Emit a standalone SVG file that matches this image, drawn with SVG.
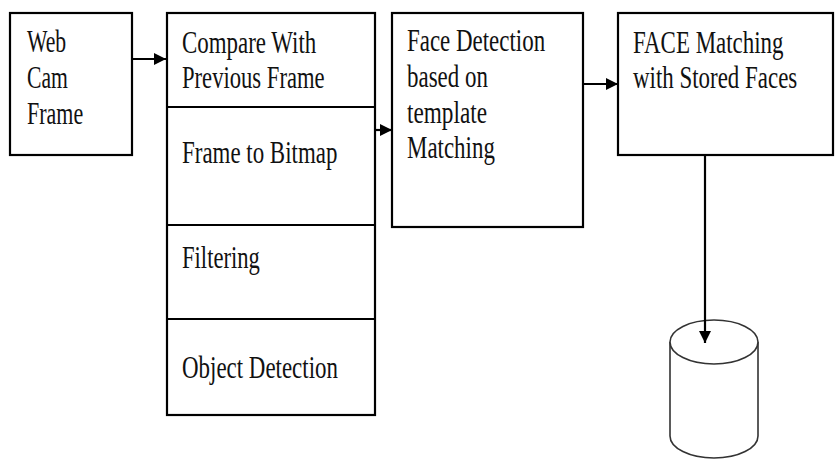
<svg xmlns="http://www.w3.org/2000/svg" width="835" height="459" viewBox="0 0 835 459">
  <style>
    .box { fill: #ffffff; stroke: #000000; stroke-width: 2.2; }
    .lbl { font-family: 'Liberation Serif', 'DejaVu Serif', serif; font-size: 31px; fill: #111111; }
    .conn { stroke: #000000; stroke-width: 2.2; fill: none; }
    .db { fill: #ffffff; stroke: #333333; stroke-width: 1.6; }
  </style>
  <defs>
    <marker id="arrow" viewBox="0 0 12 12" refX="12" refY="6" markerWidth="12" markerHeight="12" markerUnits="userSpaceOnUse" orient="auto">
      <path d="M0,0 L12,6 L0,12 Z" fill="#000000"/>
    </marker>
  </defs>
  <rect x="0" y="0" width="835" height="459" fill="#ffffff"/>

  <!-- Webcam input (labels are narrowed horizontally to a condensed serif look) -->
  <g id="webcam">
    <rect class="box" x="10" y="13" width="122" height="142"/>
    <text class="lbl" transform="translate(27,52) scale(0.70,1)">Web</text>
    <text class="lbl" transform="translate(27,88) scale(0.70,1)">Cam</text>
    <text class="lbl" transform="translate(27,124) scale(0.71,1)">Frame</text>
  </g>

  <!-- Preprocessing stack -->
  <g id="preprocess">
    <rect class="box" x="167" y="13" width="208" height="402"/>
    <line class="box" x1="167" y1="107" x2="375" y2="107"/>
    <line class="box" x1="167" y1="225" x2="375" y2="225"/>
    <line class="box" x1="167" y1="319" x2="375" y2="319"/>
    <text class="lbl" transform="translate(182,53) scale(0.74,1)">Compare With</text>
    <text class="lbl" transform="translate(182,88) scale(0.73,1)">Previous Frame</text>
    <text class="lbl" transform="translate(182,163) scale(0.74,1)">Frame to Bitmap</text>
    <text class="lbl" transform="translate(182,268) scale(0.73,1)">Filtering</text>
    <text class="lbl" transform="translate(182,378) scale(0.74,1)">Object Detection</text>
  </g>

  <!-- Face detection -->
  <g id="face-detection">
    <rect class="box" x="392" y="13" width="191" height="214"/>
    <text class="lbl" transform="translate(407,51) scale(0.74,1)">Face Detection</text>
    <text class="lbl" transform="translate(407,87) scale(0.74,1)">based on</text>
    <text class="lbl" transform="translate(407,123) scale(0.75,1)">template</text>
    <text class="lbl" transform="translate(407,158) scale(0.74,1)">Matching</text>
  </g>

  <!-- Face matching -->
  <g id="face-matching">
    <rect class="box" x="618" y="13" width="215" height="142"/>
    <text class="lbl" transform="translate(633,53) scale(0.74,1)">FACE Matching</text>
    <text class="lbl" transform="translate(633,88) scale(0.74,1)">with Stored Faces</text>
  </g>

  <!-- Face database -->
  <g id="database">
    <path class="db" d="M670,342 L670,436 A44,22 0 0 0 758,436 L758,342"/>
    <ellipse class="db" cx="714" cy="342" rx="44" ry="22"/>
  </g>

  <!-- Connectors -->
  <g id="connectors">
    <line class="conn" x1="132" y1="59" x2="166" y2="59" marker-end="url(#arrow)"/>
    <line class="conn" x1="375" y1="130" x2="392" y2="130" marker-end="url(#arrow)"/>
    <line class="conn" x1="583" y1="84" x2="618" y2="84" marker-end="url(#arrow)"/>
    <line class="conn" x1="705" y1="155" x2="705" y2="343" marker-end="url(#arrow)"/>
  </g>
</svg>
